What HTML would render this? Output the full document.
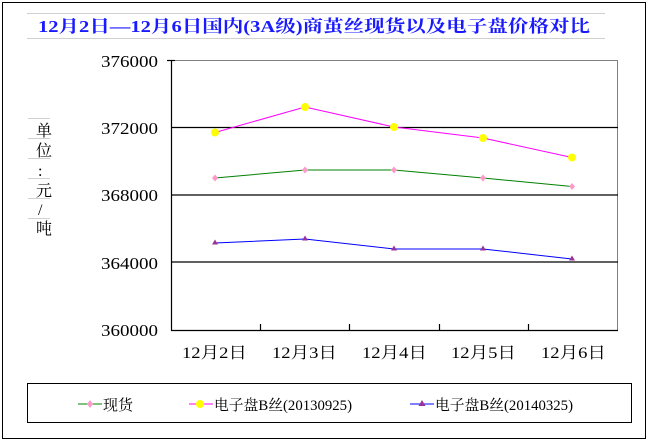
<!DOCTYPE html>
<html><head><meta charset="utf-8"><style>
body{margin:0;background:#fff;}
text{font-family:"Liberation Serif","Noto Serif CJK SC","Noto Sans CJK SC",serif;}
</style></head><body>
<svg width="649" height="441" viewBox="0 0 649 441" xmlns="http://www.w3.org/2000/svg">
<rect width="649" height="441" fill="#fff"/>
<g stroke="#d0d0d0" stroke-width="1">
<line x1="27" y1="13.5" x2="605" y2="13.5"/>
<line x1="27" y1="38.5" x2="605" y2="38.5"/>
<line x1="28" y1="118.5" x2="50" y2="118.5"/>
<line x1="28" y1="138.5" x2="50" y2="138.5"/>
<line x1="28" y1="158.5" x2="50" y2="158.5"/>
<line x1="28" y1="178.5" x2="50" y2="178.5"/>
<line x1="28" y1="198.5" x2="50" y2="198.5"/>
<line x1="28" y1="218.5" x2="50" y2="218.5"/>
</g>
<rect x="2.5" y="2.5" width="643" height="436" fill="none" stroke="#000" stroke-width="1"/>
<text x="38" y="32" font-size="17" font-weight="bold" fill="#1a1aff" textLength="552" lengthAdjust="spacingAndGlyphs">12月2日—12月6日国内(3A级)商茧丝现货以及电子盘价格对比</text>
<g font-size="16" fill="#000">
<text x="36" y="136">单</text><text x="36" y="156">位</text><text x="38" y="176">:</text><text x="36" y="196">元</text><text x="38" y="215">/</text><text x="36" y="234">吨</text>
</g>
<rect x="171.5" y="60.5" width="446" height="270" fill="#fff" stroke="#808080"/>
<g stroke="#000" stroke-width="1.2">
<line x1="171" y1="127.5" x2="618" y2="127.5"/>
<line x1="171" y1="195" x2="618" y2="195"/>
<line x1="171" y1="262" x2="618" y2="262"/>
<line x1="171" y1="330.5" x2="618" y2="330.5"/>
<line x1="171.5" y1="60" x2="171.5" y2="330"/>
<line x1="167" y1="60.5" x2="175" y2="60.5"/>
<line x1="260.5" y1="324" x2="260.5" y2="330"/>
<line x1="349.5" y1="324" x2="349.5" y2="330"/>
<line x1="439.5" y1="324" x2="439.5" y2="330"/>
<line x1="528.5" y1="324" x2="528.5" y2="330"/>
</g>
<g font-size="17" fill="#000">
<text x="101" y="67" textLength="57" lengthAdjust="spacingAndGlyphs">376000</text>
<text x="101" y="134" textLength="57" lengthAdjust="spacingAndGlyphs">372000</text>
<text x="101" y="201" textLength="57" lengthAdjust="spacingAndGlyphs">368000</text>
<text x="101" y="269" textLength="57" lengthAdjust="spacingAndGlyphs">364000</text>
<text x="101" y="336" textLength="57" lengthAdjust="spacingAndGlyphs">360000</text>
</g>
<g font-size="16" fill="#000">
<text x="182" y="358" textLength="65" lengthAdjust="spacingAndGlyphs">12月2日</text>
<text x="272" y="358" textLength="65" lengthAdjust="spacingAndGlyphs">12月3日</text>
<text x="362" y="358" textLength="65" lengthAdjust="spacingAndGlyphs">12月4日</text>
<text x="451" y="358" textLength="65" lengthAdjust="spacingAndGlyphs">12月5日</text>
<text x="541" y="358" textLength="65" lengthAdjust="spacingAndGlyphs">12月6日</text>
</g>
<polyline points="215,178 305,170 394,170 483,178 572,186.5" fill="none" stroke="#008000" stroke-width="1"/>
<g fill="#ff99cc">
<path d="M215,174.5 l3,3.5 -3,3.5 -3,-3.5z"/><path d="M305,166.5 l3,3.5 -3,3.5 -3,-3.5z"/><path d="M394,166.5 l3,3.5 -3,3.5 -3,-3.5z"/><path d="M483,174.5 l3,3.5 -3,3.5 -3,-3.5z"/><path d="M572,183 l3,3.5 -3,3.5 -3,-3.5z"/>
</g>
<polyline points="215,132.5 305,107 394,127 483,138 572,157.5" fill="none" stroke="#ff00ff" stroke-width="1"/>
<g fill="#ffff00">
<ellipse cx="215" cy="132.5" rx="4" ry="4"/><ellipse cx="305" cy="107" rx="4" ry="4"/><ellipse cx="394" cy="127" rx="4" ry="4"/><ellipse cx="483" cy="138" rx="4" ry="4"/><ellipse cx="572" cy="157.5" rx="4" ry="4"/>
</g>
<polyline points="215,243 305,239 394,249 483,249 572,259" fill="none" stroke="#0000ff" stroke-width="1"/>
<g fill="#993399">
<path d="M215,239.5 l3,5 -6,0z"/><path d="M305,235.5 l3,5 -6,0z"/><path d="M394,245.5 l3,5 -6,0z"/><path d="M483,245.5 l3,5 -6,0z"/><path d="M572,255.5 l3,5 -6,0z"/>
</g>
<rect x="27.5" y="383.5" width="604" height="39" fill="#fff" stroke="#000"/>
<line x1="78" y1="404" x2="102" y2="404" stroke="#008000"/>
<path d="M90,400 l3,4 -3,4 -3,-4z" fill="#ff99cc"/>
<text x="103" y="410" font-size="15" textLength="30" lengthAdjust="spacingAndGlyphs">现货</text>
<line x1="189" y1="404" x2="213" y2="404" stroke="#ff00ff"/>
<ellipse cx="200" cy="404" rx="4" ry="4" fill="#ffff00"/>
<text x="214" y="410" font-size="15" textLength="138" lengthAdjust="spacingAndGlyphs">电子盘B丝(20130925)</text>
<line x1="410" y1="404" x2="434" y2="404" stroke="#0000ff"/>
<path d="M422,400 l3.5,6 -7,0z" fill="#993399"/>
<text x="435" y="410" font-size="15" textLength="138" lengthAdjust="spacingAndGlyphs">电子盘B丝(20140325)</text>
</svg>
</body></html>
